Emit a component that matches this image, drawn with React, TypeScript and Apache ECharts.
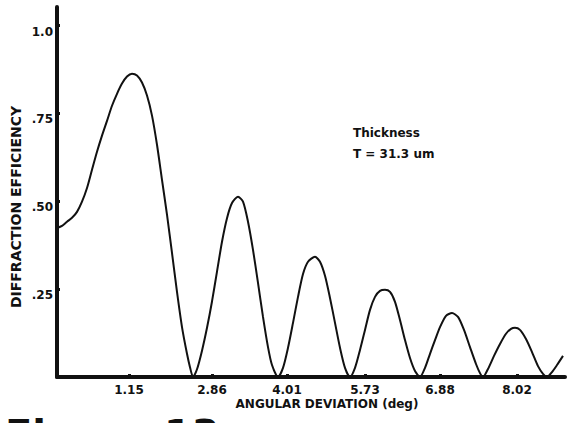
import React, { useEffect, useRef } from "react";
import * as echarts from "echarts";

// Angular deviation in axis units (the printed tick labels are not linearly spaced)
const deviation = [
  0, 0.05, 0.1, 0.15, 0.2, 0.25, 0.3, 0.35, 0.4, 0.45, 0.5, 0.55, 0.6, 0.65, 0.7, 0.75,
  0.8, 0.85, 0.9, 0.95, 1.0, 1.05, 1.1, 1.15, 1.2, 1.25, 1.3, 1.33, 1.36,
  1.4, 1.45, 1.5, 1.55, 1.6, 1.65, 1.7, 1.75, 1.81, 1.86, 1.91, 1.96, 2.01, 2.06, 2.11, 2.15, 2.21,
  2.26, 2.31, 2.36, 2.41, 2.46, 2.51, 2.58, 2.63, 2.68, 2.73, 2.78, 2.83, 2.88, 2.93,
  2.98, 3.03, 3.08, 3.13, 3.18, 3.23, 3.28, 3.33, 3.38, 3.43, 3.48, 3.53, 3.58, 3.63,
  3.68, 3.73, 3.78, 3.83, 3.89, 3.95, 4.01, 4.07, 4.13, 4.19, 4.23, 4.26,
  4.31, 4.37, 4.43, 4.49, 4.54, 4.58, 4.63, 4.69, 4.75, 4.81, 4.86, 4.9,
  4.95, 5.0, 5.06,
];

const efficiency = [
  0.424, 0.43, 0.442, 0.453, 0.47, 0.499, 0.538, 0.59, 0.641, 0.687, 0.729, 0.772, 0.806, 0.835, 0.855, 0.863,
  0.858, 0.838, 0.801, 0.744, 0.661, 0.561, 0.462, 0.353, 0.242, 0.142, 0.066, 0.028, 0,
  0.022, 0.075, 0.14, 0.215, 0.3, 0.385, 0.452, 0.495, 0.513, 0.499, 0.442, 0.362, 0.268, 0.171, 0.085, 0.034, 0,
  0.026, 0.083, 0.154, 0.228, 0.293, 0.328, 0.342, 0.328, 0.288, 0.225, 0.154, 0.083, 0.026, 0,
  0.026, 0.077, 0.134, 0.191, 0.228, 0.245, 0.248, 0.242, 0.214, 0.162, 0.105, 0.054, 0.017, 0,
  0.026, 0.066, 0.105, 0.142, 0.174, 0.182, 0.171, 0.134, 0.085, 0.037, 0.011, 0,
  0.023, 0.06, 0.094, 0.123, 0.137, 0.14, 0.134, 0.108, 0.071, 0.031, 0.009, 0,
  0.014, 0.034, 0.06,
];

const xTickPositions = [0.72, 1.55, 2.3, 3.08, 3.83, 4.6];
const xTickLabels = ["1.15", "2.86", "4.01", "5.73", "6.88", "8.02"];
const yTickValues = [0.25, 0.5, 0.75, 1.0];
const yTickLabels = [".25", ".50", ".75", "1.0"];

const INK = "#111";
const FONT = '"DejaVu Sans"';

export default function App() {
  const ref = useRef<HTMLDivElement>(null);

  useEffect(() => {
    if (!ref.current) return;
    const chart = echarts.init(ref.current, null, { renderer: "svg" });
    const data = deviation.map((d, i) => [d, efficiency[i]]);
    chart.setOption({
      animation: false,
      backgroundColor: "#fff",
      grid: { left: 57, right: 2, top: 7, bottom: 46, containLabel: false },
      xAxis: {
        type: "value",
        min: 0,
        max: 5.08,
        splitLine: { show: false },
        axisLine: { show: true, onZero: false, lineStyle: { color: INK, width: 4 } },
        axisTick: {
          show: true,
          inside: true,
          length: 3,
          lineStyle: { color: INK, width: 3 },
          customValues: xTickPositions,
        },
        axisLabel: {
          show: true,
          margin: 7,
          color: INK,
          fontFamily: FONT,
          fontWeight: "bold",
          fontSize: 12,
          customValues: xTickPositions,
          formatter: (v: number) => {
            const i = xTickPositions.findIndex((p) => Math.abs(p - v) < 1e-6);
            return i >= 0 ? xTickLabels[i] : "";
          },
        },
      },
      yAxis: {
        type: "value",
        min: 0,
        max: 1.053,
        splitLine: { show: false },
        axisLine: { show: true, onZero: false, lineStyle: { color: INK, width: 4 } },
        axisTick: {
          show: true,
          inside: true,
          length: 3,
          lineStyle: { color: INK, width: 3 },
          customValues: yTickValues,
        },
        axisLabel: {
          show: true,
          margin: 4,
          color: INK,
          fontFamily: FONT,
          fontWeight: "bold",
          fontSize: 12,
          verticalAlign: "top",
          customValues: yTickValues,
          formatter: (v: number) => {
            const i = yTickValues.findIndex((p) => Math.abs(p - v) < 1e-6);
            return i >= 0 ? yTickLabels[i] : "";
          },
        },
      },
      series: [
        {
          type: "line",
          data,
          showSymbol: false,
          smooth: 0.25,
          lineStyle: { color: INK, width: 2 },
          z: 3,
        },
      ],
      graphic: [
        {
          type: "text",
          x: 16,
          y: 207,
          rotation: Math.PI / 2,
          style: {
            text: "DIFFRACTION EFFICIENCY",
            font: `bold 14px ${FONT}`,
            fill: INK,
            textAlign: "center",
            textVerticalAlign: "middle",
            align: "center",
            verticalAlign: "middle",
          },
        },
        {
          type: "text",
          x: 327,
          y: 404,
          style: {
            text: "ANGULAR DEVIATION (deg)",
            font: `bold 12px ${FONT}`,
            fill: INK,
            textAlign: "center",
            textVerticalAlign: "middle",
            align: "center",
            verticalAlign: "middle",
          },
        },
        {
          type: "text",
          x: 353,
          y: 133,
          style: {
            text: "Thickness",
            font: `bold 12px ${FONT}`,
            fill: INK,
            textAlign: "left",
            textVerticalAlign: "middle",
            align: "left",
            verticalAlign: "middle",
          },
        },
        {
          type: "text",
          x: 353,
          y: 154,
          style: {
            text: "T = 31.3 um",
            font: `bold 12px ${FONT}`,
            fill: INK,
            textAlign: "left",
            textVerticalAlign: "middle",
            align: "left",
            verticalAlign: "middle",
          },
        },
        {
          type: "text",
          x: 5,
          y: 415,
          style: {
            text: "Figure 13",
            font: `bold 40px ${FONT}`,
            fill: INK,
            textAlign: "left",
            textVerticalAlign: "top",
            align: "left",
            verticalAlign: "top",
          },
        },
      ],
    });
    return () => chart.dispose();
  }, []);

  return (
    <div
      ref={ref}
      style={{ position: "absolute", left: 0, top: 0, width: 567, height: 423, background: "#fff" }}
    />
  );
}
